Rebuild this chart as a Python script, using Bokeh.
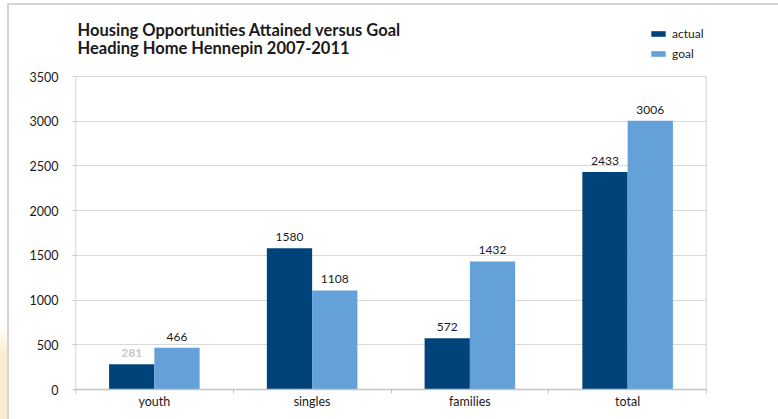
from bokeh.plotting import figure
from bokeh.models import ColumnDataSource, FixedTicker, Legend, LegendItem, Range1d, Label
from bokeh.transform import dodge
from bokeh.core.properties import value
from bokeh.embed import file_html
from bokeh.resources import INLINE

categories = ["youth", "singles", "families", "total"]
actual = [281, 1580, 572, 2433]
goal = [466, 1108, 1432, 3006]
y_ticks = [0, 500, 1000, 1500, 2000, 2500, 3000, 3500]
title_lines = ["Housing Opportunities Attained versus Goal", "Heading Home Hennepin 2007-2011"]

DARK = "#00427a"
LIGHT = "#63a1d8"
FONT = "Lato"
W = 0.287

FIG_W = 778
FIG_H = 419
BOTTOM = 30
FRAME_H = FIG_H - BOTTOM          # frame fills the top of the figure
PLOT_H = 313                      # pixel height of the 0..3500 area
Y_TOP = y_ticks[-1] * FRAME_H / PLOT_H

centers = [i + 0.5 for i in range(len(categories))]
src = ColumnDataSource(dict(
    x=centers, actual=actual, goal=goal,
    actual_txt=[str(v) for v in actual], goal_txt=[str(v) for v in goal],
    actual_col=["#c8c8c8" if i == 0 else "#1a1a1a" for i in range(len(actual))],
    actual_style=["bold" if i == 0 else "normal" for i in range(len(actual))],
))

p = figure(width=FIG_W, height=FIG_H, output_backend="svg", toolbar_location=None,
           x_range=Range1d(0, len(categories)), y_range=Range1d(0, Y_TOP),
           min_border_left=75, min_border_right=72, min_border_top=0, min_border_bottom=BOTTOM)
p.outline_line_color = None
p.border_fill_color = None
p.background_fill_color = None
LINE = "#d4d4d4"
p.styles = {
    "background-color": "white",
    "background-image": (f"linear-gradient({LINE},{LINE}), linear-gradient({LINE},{LINE}), "
                         "linear-gradient(to bottom, rgba(252,236,205,0), rgba(252,236,205,1) 35%)"),
    "background-size": "2px 100%, 100% 2px, 7px 95px",
    "background-position": "7px 3px, 7px 3px, 0px 324px",
    "background-repeat": "no-repeat",
}

AX = "#c4c4c4"
GRID = "#d9d9d9"

# plot-area side borders (from 0 to the top tick)
n = len(categories)
p.segment(x0=[0, n], y0=[0, 0], x1=[0, n], y1=[y_ticks[-1]] * 2, line_color=AX, line_width=1.5)

r1 = p.vbar(x=dodge("x", -W / 2), top="actual", width=W, source=src, fill_color=DARK, line_color=None)
r2 = p.vbar(x=dodge("x", W / 2), top="goal", width=W, source=src, fill_color=LIGHT, line_color=None)

p.text(x=dodge("x", -W / 2), y="actual", text="actual_txt", source=src, text_align="center",
       text_baseline="alphabetic", y_offset=-11, text_font=value(FONT), text_font_size="12px",
       text_color="actual_col", text_font_style="actual_style")
p.text(x=dodge("x", W / 2), y="goal", text="goal_txt", source=src, text_align="center",
       text_baseline="alphabetic", y_offset=-11, text_font=value(FONT), text_font_size="12px",
       text_color="#1a1a1a")

p.xgrid.grid_line_color = None
p.ygrid.grid_line_color = GRID
p.ygrid.ticker = FixedTicker(ticks=y_ticks)

p.yaxis.ticker = FixedTicker(ticks=y_ticks)
p.yaxis.axis_line_color = None
p.yaxis.major_tick_line_color = AX
p.yaxis.major_tick_out = 3
p.yaxis.major_tick_in = 0
p.yaxis.minor_tick_line_color = None
p.yaxis.major_label_standoff = 14
p.yaxis.major_label_text_font = FONT
p.yaxis.major_label_text_font_size = "12.5px"
p.yaxis.major_label_text_color = "#1a1a1a"

p.xaxis.ticker = FixedTicker(ticks=centers, minor_ticks=list(range(n + 1)))
p.xaxis.major_label_overrides = {c: lab for c, lab in zip(centers, categories)}
p.xaxis.axis_line_color = AX
p.xaxis.axis_line_width = 1.5
p.xaxis.major_tick_line_color = None
p.xaxis.major_tick_out = 0
p.xaxis.major_tick_in = 0
p.xaxis.minor_tick_line_color = AX
p.xaxis.minor_tick_out = 4
p.xaxis.minor_tick_in = 0
p.xaxis.major_label_standoff = 0
p.xaxis.major_label_text_font = FONT
p.xaxis.major_label_text_font_size = "12.5px"
p.xaxis.major_label_text_color = "#1a1a1a"

# title (two lines), screen units relative to the plot frame
for i, line in enumerate(title_lines):
    p.add_layout(Label(x=2, y=360 - 18 * i, x_units="screen", y_units="screen", text=line,
                       text_font=FONT, text_font_size="16.5px", text_font_style="bold",
                       text_color="#1a1a1a", text_baseline="alphabetic", text_align="left"))

legend = Legend(items=[LegendItem(label="actual", renderers=[r1]), LegendItem(label="goal", renderers=[r2])],
                location=(574, 328), glyph_width=18, glyph_height=7, label_height=12, spacing=5,
                padding=0, margin=0, label_standoff=5, border_line_color=None, background_fill_alpha=0,
                label_text_font=FONT, label_text_font_size="12px", label_text_color="#1a1a1a")
p.add_layout(legend, "center")

open("out.html", "w").write(file_html(p, INLINE))
